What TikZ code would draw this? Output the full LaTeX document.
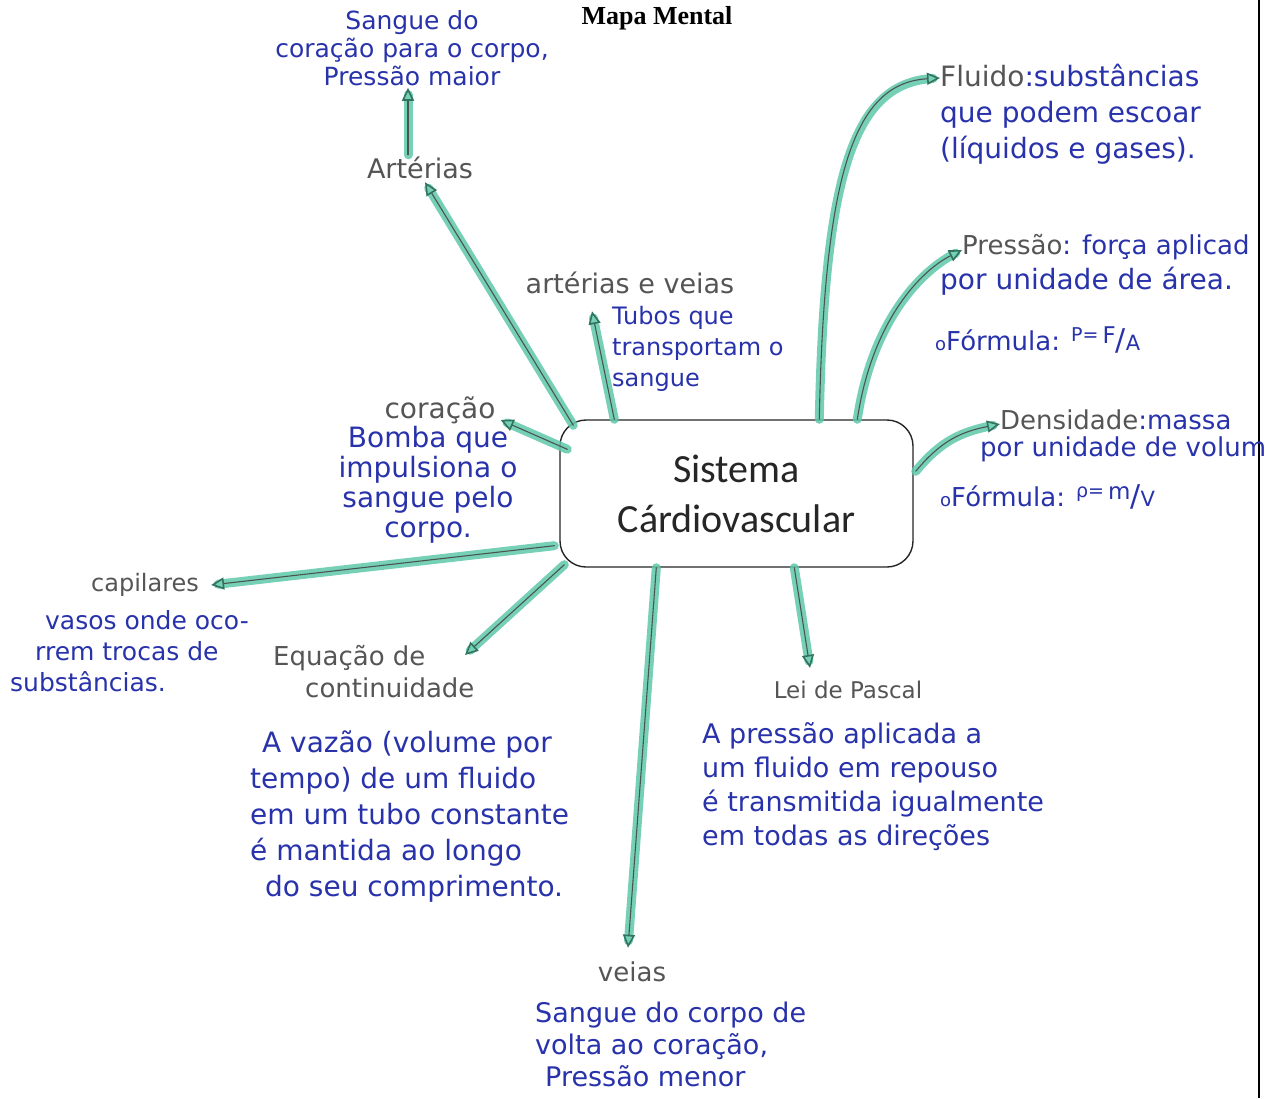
\documentclass[tikz,border=0pt]{standalone}
\usepackage{fontspec}
\setmainfont{DejaVu Sans}
\newfontfamily\titlefont{Liberation Serif}
\newfontfamily\boxfont{Carlito}
\usetikzlibrary{arrows.meta,calc}
\definecolor{hwgray}{RGB}{85,85,85}
\definecolor{hwblue}{RGB}{40,50,170}
\definecolor{marker}{RGB}{95,200,170}
\definecolor{tipcol}{RGB}{50,115,95}
\definecolor{pencil}{RGB}{75,85,80}
\newcommand\fs[2]{\fontsize{#1}{#2}\selectfont}
\newcommand\frm[3]{{\fs{19}{19}\raisebox{9pt}{#1=}}\hspace{4pt}\raisebox{7pt}{\fs{23}{23}#2}{\fs{30}{30}/}{\fs{21}{21}#3}}
\begin{document}
\begin{tikzpicture}[x=1pt,y=-1pt,
  hd/.style={text=hwgray, inner sep=0pt},
  ds/.style={text=hwblue, inner sep=0pt},
  link/.style={draw=pencil, line width=1.1pt, line cap=round,
    preaction={draw=marker, line width=9pt, line cap=round, opacity=0.85, arrows=-, shorten >=7pt},
    -{Triangle[open, length=13pt, width=12pt, line width=1.6pt, color=tipcol]}}
]
\fill[white] (0,0) rectangle (1269,1098);
\useasboundingbox (0,0) rectangle (1269,1098);
\draw[line width=1.5pt] (1259,0) -- (1259,1098);

% title
\node[inner sep=0pt, font=\titlefont\bfseries\fs{26}{30}] (title) at (657,18) {Mapa Mental};

% central box
\node[draw=black!85, line width=1.4pt, rounded corners=26pt, minimum width=353pt, minimum height=147pt,
  inner sep=0pt, align=center, text=black!85, font=\boxfont\fs{40}{50}] (box) at (736.5,493.5) {Sistema\\Cárdiovascular};

% upper left
\node[ds, anchor=north, align=center, font=\fs{25}{28}] (sang) at (412,10) {Sangue do\\coração para o corpo,\\Pressão maior};
\node[hd, font=\fs{27}{30}] (art) at (420,168) {Artérias};
\node[hd, font=\fs{27}{30}] (av) at (630,283) {artérias e veias};
\node[ds, anchor=north west, align=left, font=\fs{24}{31}] (tubos) at (612,306) {Tubos que\\transportam o\\sangue};
\node[hd, font=\fs{28}{30}] (cor) at (440,410) {coração};
\node[ds, anchor=north, align=center, font=\fs{28}{30}] (bomba) at (428,426) {Bomba que\\impulsiona o\\sangue pelo\\corpo.};

% left
\node[hd, font=\fs{24}{30}] (cap) at (145,585) {capilares};
\node[ds, anchor=north west, align=left, font=\fs{25}{31}] (vasos) at (10,610) {\hspace*{35pt}vasos onde oco-\\\hspace*{25pt}rrem trocas de\\substâncias.};
\node[hd, anchor=north west, align=left, font=\fs{26}{32}] (eq) at (273,645) {Equação de\\\hspace*{32pt}continuidade};
\node[ds, anchor=north west, align=left, font=\fs{28}{36}] (vazao) at (250,731) {\hspace*{12pt}A vazão (volume por\\tempo) de um fluido\\em um tubo constante\\é mantida ao longo\\\hspace*{15pt}do seu comprimento.};

% bottom
\node[hd, font=\fs{26}{30}] (veias) at (632,972) {veias};
\node[ds, anchor=north west, align=left, font=\fs{27}{32}] (vdesc) at (535,1002) {Sangue do corpo de\\volta ao coração,\\\hspace*{10pt}Pressão menor};
\node[hd, font=\fs{23}{30}] (lei) at (848,690) {Lei de Pascal};
\node[ds, anchor=north west, align=left, font=\fs{27}{34}] (pdesc) at (702,722) {A pressão aplicada a\\um fluido em repouso\\é transmitida igualmente\\em todas as direções};

% right
\node[ds, anchor=north west, align=left, font=\fs{28}{36}] (fluido) at (940,64) {\textcolor{hwgray}{Fluido}:substâncias\\que podem escoar\\(líquidos e gases).};
\node[ds, anchor=north west, align=left, font=\fs{28}{35}] (pres) at (940,234) {\hspace*{22pt}{\fs{26}{35}\textcolor{hwgray}{Pressão}: força aplicad}\\por unidade de área.};
\node[ds, anchor=west, font=\fs{26}{30}] (fpres) at (935,340) {{\fs{18}{18}o}Fórmula: \frm{P}{F}{A}};
\node[ds, anchor=north west, align=left, font=\fs{26}{27}] (dens) at (980,410) {\hspace*{20pt}\textcolor{hwgray}{Densidade}:massa\\por unidade de volum};
\node[ds, anchor=west, font=\fs{26}{30}] (fdens) at (940,497) {{\fs{18}{18}o}Fórmula: \frm{ρ}{m}{V}};

% connectors
\draw[link] ($(box.north west)+(14,6)$) -- ($(art.south)+(5,3)$);
\draw[link] ($(art.north)+(-12,-2)$) -- ($(sang.south)+(-4,2)$);
\draw[link] ($(box.north west)+(55,0)$) -- ($(av.south)+(-38,17)$);
\draw[link] ($(box.north west)+(8,30)$) -- ($(cor.east)+(5,10)$);
\draw[link] ($(box.south west)+(-5,-22)$) -- ($(cap.east)+(12,0)$);
\draw[link] ($(box.south west)+(5,-3)$) -- ($(eq.north west)+(192,10)$);
\draw[link] ($(box.south west)+(97,0)$) -- ($(veias.north)+(-4,-14)$);
\draw[link] ($(box.south west)+(235,0)$) -- ($(lei.north)+(-38,-13)$);
\draw[link] ($(box.north west)+(260,0)$) .. controls +(5,-250) and +(-85,5) .. ($(fluido.north west)+(0,14)$);
\draw[link] ($(box.north west)+(298,0)$) .. controls +(15,-100) and +(-40,20) .. ($(pres.north west)+(22,16)$);
\draw[link] ($(box.north east)+(2,52)$) .. controls +(25,-30) and +(-40,8) .. ($(dens.north west)+(20,14)$);
\end{tikzpicture}
\end{document}
